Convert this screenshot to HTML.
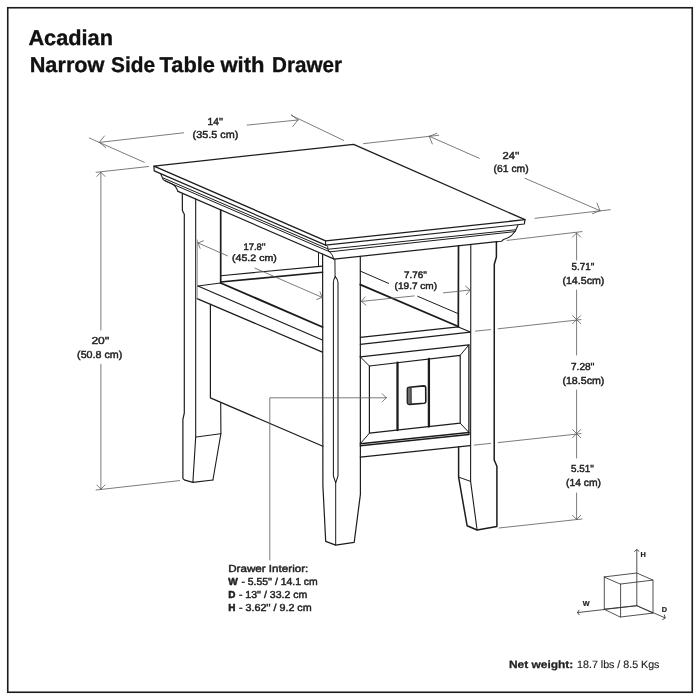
<!DOCTYPE html>
<html><head><meta charset="utf-8"><title>Acadian Narrow Side Table with Drawer</title>
<style>
html,body{margin:0;padding:0;background:#fff;}
body{width:700px;height:700px;overflow:hidden;}
svg{display:block;font-family:"Liberation Sans",sans-serif;will-change:transform;}
svg text{text-rendering:geometricPrecision;}
svg path{stroke-linecap:round;stroke-linejoin:round;}
</style></head><body>
<svg width="700" height="700" viewBox="0 0 700 700">
<rect width="700" height="700" fill="#fff"/>
<rect x="7.75" y="7.75" width="684.5" height="684.5" fill="#fff" stroke="#1c1c1c" stroke-width="1.6"/>
<path d="M154,166.1 L353.6,144.3 L525,219.7 L325.6,240.9 Z" stroke="#1c1c1c" stroke-width="1.3" fill="#fff" />
<path d="M154.0,166.1 L154.2,170.9 L325.6,245.1 L524.3,224.0 L525.0,219.7" stroke="#1c1c1c" stroke-width="1.2" fill="none" />
<path d="M325.6,240.9 L325.6,245.1" stroke="#1c1c1c" stroke-width="1.1" fill="none" />
<path d="M163.0,177.9 L327.7,248.8" stroke="#1c1c1c" stroke-width="1.0" fill="none" />
<path d="M164.7,180.7 L329.9,251.9" stroke="#1c1c1c" stroke-width="1.0" fill="none" />
<path d="M178.0,191.4 L333.7,258.9" stroke="#1c1c1c" stroke-width="1.2" fill="none" />
<path d="M160.9,174.3 L163.2,179.6 L164.7,180.6 L172.5,184.2 Q175.6,185.8 176.6,188.6 L178,191.4" stroke="#1c1c1c" stroke-width="1.1" fill="none" />
<path d="M328.6,249.2 L515.7,229.8" stroke="#1c1c1c" stroke-width="1.0" fill="none" />
<path d="M330.3,251.8 L515.0,231.6" stroke="#1c1c1c" stroke-width="1.0" fill="none" />
<path d="M334.1,259.1 L497.0,241.7" stroke="#1c1c1c" stroke-width="1.2" fill="none" />
<path d="M517.9,225.4 L515.7,230 L515,231.5 Q511,237.5 503.5,239.5 L501.4,241.3 L497,241.7" stroke="#1c1c1c" stroke-width="1.1" fill="none" />
<path d="M326.4,245.4 L327.7,246.6 L328.1,250 L329.9,252 Q332.6,254.5 333.9,259" stroke="#1c1c1c" stroke-width="1.0" fill="none" />
<path d="M182.3,194.2 L182.4,210.5 L184.3,214.3 L184.3,413.0 L182.9,419.4 L182.9,478.6 L184.9,480.2 L192.9,482.3 L212.9,480.0" stroke="#1c1c1c" stroke-width="1.2" fill="none" />
<path d="M195.7,199.1 L195.7,437.1 L192.9,482.3" stroke="#1c1c1c" stroke-width="1.1" fill="none" />
<path d="M220.7,209.9 L220.7,283.0" stroke="#1c1c1c" stroke-width="1.7" fill="none" />
<path d="M220.7,402.9 L220.9,433.7 L212.9,480.0" stroke="#1c1c1c" stroke-width="1.1" fill="none" />
<path d="M195.7,437.1 L220.9,433.7" stroke="#1c1c1c" stroke-width="1.0" fill="none" />
<path d="M197.9,286.0 L322.4,340.0" stroke="#1c1c1c" stroke-width="1.2" fill="none" />
<path d="M197.1,298.6 L322.4,352.1" stroke="#1c1c1c" stroke-width="1.2" fill="none" />
<path d="M197.4,240.0 L197.3,298.6" stroke="#8a8a8a" stroke-width="0.8" fill="none" />
<path d="M220.7,283.0 L322.4,327.0" stroke="#1c1c1c" stroke-width="1.9" fill="none" />
<path d="M197.9,286.0 L220.7,283.0" stroke="#1c1c1c" stroke-width="1.0" fill="none" />
<path d="M220.7,275.7 L322.6,266.1" stroke="#1c1c1c" stroke-width="1.1" fill="none" />
<path d="M220.7,282.0 L322.6,272.3" stroke="#1c1c1c" stroke-width="1.6" fill="none" />
<path d="M318.5,252.9 L318.5,266.4" stroke="#1c1c1c" stroke-width="1.0" fill="none" />
<path d="M210.4,304.3 L210.4,397.9 L322.9,446.3" stroke="#1c1c1c" stroke-width="1.2" fill="none" />
<path d="M322.6,254.1 L322.9,485.7 L325.7,541.4 L335.7,545.1 L354.2,542.3 L360.4,494.3 L360.3,256.3" stroke="#1c1c1c" stroke-width="1.2" fill="none" />
<path d="M334.9,259.3 L335.1,277.0" stroke="#1c1c1c" stroke-width="1.0" fill="none" />
<path d="M335.3,276.6 Q333.5,279.3 333.4,282.5 L333.4,476 L335.7,482.9 L338,476 L338,282.5 Q337.8,279.3 335.3,276.6" stroke="#1c1c1c" stroke-width="1.05" fill="none" />
<path d="M335.7,482.9 L335.7,545.1" stroke="#1c1c1c" stroke-width="1.0" fill="none" />
<path d="M458.5,245.8 L458.3,326.5" stroke="#1c1c1c" stroke-width="1.7" fill="none" />
<path d="M470.8,244.5 L470.6,481.4 L477.1,530.0" stroke="#1c1c1c" stroke-width="1.1" fill="none" />
<path d="M496.4,241.7 L496.4,257.0 L494.3,264.3 L494.2,460.0 L496.9,466.3 L496.9,526.6 L477.1,530.0 L467.1,525.7 L458.6,477.1 L458.6,447.1" stroke="#1c1c1c" stroke-width="1.5" fill="none" />
<path d="M458.6,477.1 L470.6,481.4" stroke="#1c1c1c" stroke-width="1.0" fill="none" />
<path d="M360.3,271.1 L388.6,283.4" stroke="#1c1c1c" stroke-width="1.0" fill="none" />
<path d="M417.7,296.3 L458.3,313.7" stroke="#1c1c1c" stroke-width="1.0" fill="none" />
<path d="M360.3,284.6 L458.3,326.5" stroke="#1c1c1c" stroke-width="1.9" fill="none" />
<path d="M360.3,337.4 L458.3,326.9 L470.3,331.9" stroke="#1c1c1c" stroke-width="1.1" fill="none" />
<path d="M360.3,344.3 L470.3,332.2" stroke="#1c1c1c" stroke-width="1.2" fill="none" />
<path d="M360.3,356.9 L468.9,344.9 L468.9,434.4" stroke="#1c1c1c" stroke-width="1.3" fill="none" />
<path d="M360.3,443.7 L468.9,432.4" stroke="#1c1c1c" stroke-width="1.5" fill="none" />
<path d="M360.3,445.7 L468.9,434.4" stroke="#1c1c1c" stroke-width="1.5" fill="none" />
<path d="M369.4,366 L460.2,355.3 L460.2,423.2 L369.4,433.2 Z" stroke="#1c1c1c" stroke-width="1.2" fill="none" />
<path d="M360.3,356.9 L369.4,366.0" stroke="#1c1c1c" stroke-width="1.0" fill="none" />
<path d="M468.9,344.9 L460.2,355.3" stroke="#1c1c1c" stroke-width="1.0" fill="none" />
<path d="M468.9,432.4 L460.2,423.2" stroke="#1c1c1c" stroke-width="1.0" fill="none" />
<path d="M360.3,443.7 L369.4,433.2" stroke="#1c1c1c" stroke-width="1.0" fill="none" />
<path d="M397.5,362.7 L397.5,430.1" stroke="#1c1c1c" stroke-width="2.3" fill="none" />
<path d="M428.9,359.0 L428.9,426.6" stroke="#1c1c1c" stroke-width="2.3" fill="none" />
<path d="M409.2,387.3 L423.8,385.9 Q425.6,385.9 425.7,387.6 L425.8,401.4 Q425.8,403 424.2,403.2 L409.8,404.4 Q407.4,404.4 407.4,402.2 L407.4,389.2 Q407.4,387.4 409.2,387.3 Z" stroke="#1c1c1c" stroke-width="1.6" fill="#fff" />
<path d="M410.8,388.0 L408.3,388.5 L408.2,403.2 L410.9,403.8 Z" stroke="#555" stroke-width="0.6" fill="#6a6a6a" />
<path d="M411,387.8 L411.1,403.9" stroke="#1c1c1c" stroke-width="0.9" fill="none" />
<path d="M360.3,457.1 L470.3,445.7" stroke="#1c1c1c" stroke-width="1.2" fill="none" />
<path d="M99.3,142.4 L183.6,132.8" stroke="#5a5a5a" stroke-width="0.8" fill="none" />
<path d="M247.1,125.1 L297.9,120.0" stroke="#5a5a5a" stroke-width="0.8" fill="none" />
<path d="M99.3,142.4 L105.7,147.5" stroke="#5a5a5a" stroke-width="0.8" fill="none" />
<path d="M99.3,142.4 L104.4,136.0" stroke="#5a5a5a" stroke-width="0.8" fill="none" />
<path d="M297.9,120.0 L291.5,114.9" stroke="#5a5a5a" stroke-width="0.8" fill="none" />
<path d="M297.9,120.0 L292.8,126.4" stroke="#5a5a5a" stroke-width="0.8" fill="none" />
<path d="M89.3,138.0 L144.3,162.3" stroke="#5a5a5a" stroke-width="0.8" fill="none" />
<path d="M291.4,115.4 L343.6,140.4" stroke="#5a5a5a" stroke-width="0.8" fill="none" />
<path d="M429.3,136.3 L479.3,158.3" stroke="#5a5a5a" stroke-width="0.8" fill="none" />
<path d="M525.0,178.3 L600.0,210.7" stroke="#5a5a5a" stroke-width="0.8" fill="none" />
<path d="M429.3,136.3 L432.3,143.9" stroke="#5a5a5a" stroke-width="0.8" fill="none" />
<path d="M429.3,136.3 L436.9,133.3" stroke="#5a5a5a" stroke-width="0.8" fill="none" />
<path d="M600.0,210.7 L597.0,203.1" stroke="#5a5a5a" stroke-width="0.8" fill="none" />
<path d="M600.0,210.7 L592.4,213.7" stroke="#5a5a5a" stroke-width="0.8" fill="none" />
<path d="M363.6,143.6 L438.7,135.3" stroke="#5a5a5a" stroke-width="0.8" fill="none" />
<path d="M535.0,218.3 L610.3,209.7" stroke="#5a5a5a" stroke-width="0.8" fill="none" />
<path d="M96.1,172.3 L148.6,166.5" stroke="#5a5a5a" stroke-width="0.8" fill="none" />
<path d="M100.9,172.5 L100.9,330.0" stroke="#5a5a5a" stroke-width="0.8" fill="none" />
<path d="M100.9,364.3 L100.9,489.1" stroke="#5a5a5a" stroke-width="0.8" fill="none" />
<path d="M100.9,172.3 L96.8,176.4" stroke="#5a5a5a" stroke-width="0.8" fill="none" />
<path d="M100.9,172.3 L105.0,176.4" stroke="#5a5a5a" stroke-width="0.8" fill="none" />
<path d="M100.9,489.1 L105.0,485.0" stroke="#5a5a5a" stroke-width="0.8" fill="none" />
<path d="M100.9,489.1 L96.8,485.0" stroke="#5a5a5a" stroke-width="0.8" fill="none" />
<path d="M96.1,490.0 L179.6,480.6" stroke="#5a5a5a" stroke-width="0.8" fill="none" />
<path d="M198.0,242.9 L227.4,255.8" stroke="#5a5a5a" stroke-width="0.8" fill="none" />
<path d="M254.9,268.1 L322.1,297.4" stroke="#5a5a5a" stroke-width="0.8" fill="none" />
<path d="M198.0,242.9 L200.1,248.3" stroke="#5a5a5a" stroke-width="0.8" fill="none" />
<path d="M198.0,242.9 L203.4,240.8" stroke="#5a5a5a" stroke-width="0.8" fill="none" />
<path d="M322.1,297.4 L320.0,292.0" stroke="#5a5a5a" stroke-width="0.8" fill="none" />
<path d="M322.1,297.4 L316.7,299.5" stroke="#5a5a5a" stroke-width="0.8" fill="none" />
<path d="M361.4,301.4 L414.3,295.9" stroke="#5a5a5a" stroke-width="0.8" fill="none" />
<path d="M443.4,292.9 L470.2,290.0" stroke="#5a5a5a" stroke-width="0.8" fill="none" />
<path d="M361.4,301.4 L365.9,305.1" stroke="#5a5a5a" stroke-width="0.8" fill="none" />
<path d="M361.4,301.4 L365.1,296.9" stroke="#5a5a5a" stroke-width="0.8" fill="none" />
<path d="M470.2,290.0 L465.7,286.3" stroke="#5a5a5a" stroke-width="0.8" fill="none" />
<path d="M470.2,290.0 L466.5,294.5" stroke="#5a5a5a" stroke-width="0.8" fill="none" />
<path d="M507.0,240.4 L582.0,231.6" stroke="#5a5a5a" stroke-width="0.8" fill="none" />
<path d="M475.5,331.1 L490.6,329.6" stroke="#5a5a5a" stroke-width="0.8" fill="none" />
<path d="M498.2,328.8 L581.0,319.6" stroke="#5a5a5a" stroke-width="0.8" fill="none" />
<path d="M474.3,445.1 L490.6,443.4" stroke="#5a5a5a" stroke-width="0.8" fill="none" />
<path d="M498.2,442.6 L581.0,433.6" stroke="#5a5a5a" stroke-width="0.8" fill="none" />
<path d="M499.0,528.0 L582.0,519.0" stroke="#5a5a5a" stroke-width="0.8" fill="none" />
<path d="M576.6,233.0 L576.6,260.0" stroke="#5a5a5a" stroke-width="0.8" fill="none" />
<path d="M576.6,290.0 L576.6,355.0" stroke="#5a5a5a" stroke-width="0.8" fill="none" />
<path d="M576.6,390.0 L576.6,458.0" stroke="#5a5a5a" stroke-width="0.8" fill="none" />
<path d="M576.6,493.0 L576.6,519.4" stroke="#5a5a5a" stroke-width="0.8" fill="none" />
<path d="M576.6,233.0 L572.5,237.1" stroke="#5a5a5a" stroke-width="0.8" fill="none" />
<path d="M576.6,233.0 L580.7,237.1" stroke="#5a5a5a" stroke-width="0.8" fill="none" />
<path d="M576.6,319.6 L580.6,315.6" stroke="#5a5a5a" stroke-width="0.8" fill="none" />
<path d="M576.6,319.6 L572.6,315.6" stroke="#5a5a5a" stroke-width="0.8" fill="none" />
<path d="M576.6,319.6 L572.6,323.6" stroke="#5a5a5a" stroke-width="0.8" fill="none" />
<path d="M576.6,319.6 L580.6,323.6" stroke="#5a5a5a" stroke-width="0.8" fill="none" />
<path d="M576.6,433.6 L580.6,429.6" stroke="#5a5a5a" stroke-width="0.8" fill="none" />
<path d="M576.6,433.6 L572.6,429.6" stroke="#5a5a5a" stroke-width="0.8" fill="none" />
<path d="M576.6,433.6 L572.6,437.6" stroke="#5a5a5a" stroke-width="0.8" fill="none" />
<path d="M576.6,433.6 L580.6,437.6" stroke="#5a5a5a" stroke-width="0.8" fill="none" />
<path d="M576.6,519.4 L580.7,515.3" stroke="#5a5a5a" stroke-width="0.8" fill="none" />
<path d="M576.6,519.4 L572.5,515.3" stroke="#5a5a5a" stroke-width="0.8" fill="none" />
<path d="M269.8,560.0 L269.8,397.8 L386.3,397.8" stroke="#5a5a5a" stroke-width="0.8" fill="none" />
<path d="M386.3,397.8 L382.2,393.7" stroke="#5a5a5a" stroke-width="0.8" fill="none" />
<path d="M386.3,397.8 L382.2,401.9" stroke="#5a5a5a" stroke-width="0.8" fill="none" />
<path d="M604.3,576.9 L636.8,573 L653,580.1 L620.6,584 Z" stroke="#333" stroke-width="0.85" fill="none" />
<path d="M604.3,609.1 L636.8,605.7 L653,613.1 L620.6,617 Z" stroke="#333" stroke-width="0.85" fill="none" />
<path d="M604.3,576.9 L604.3,609.1" stroke="#333" stroke-width="0.85" fill="none" />
<path d="M653.0,580.1 L653.0,613.1" stroke="#333" stroke-width="0.85" fill="none" />
<path d="M620.6,584.0 L620.6,617.0" stroke="#333" stroke-width="0.85" fill="none" />
<path d="M636.8,605.7 L636.8,549.7" stroke="#333" stroke-width="0.85" fill="none" />
<path d="M636.8,605.7 L577.5,612.6" stroke="#333" stroke-width="0.85" fill="none" />
<path d="M636.8,605.7 L665.0,617.8" stroke="#333" stroke-width="0.85" fill="none" />
<path d="M634.6,551.3 L636.8,549.5 L639.0,551.3" stroke="#333" stroke-width="0.85" fill="none" />
<path d="M579.0,610.2 L577.5,612.6 L579.3,614.8" stroke="#333" stroke-width="0.85" fill="none" />
<path d="M664.4,615.0 L665.2,618.0 L662.6,619.6" stroke="#333" stroke-width="0.85" fill="none" />
<text x="28.4" y="44.5" font-size="21.4" font-weight="bold" fill="#111" stroke="#111" stroke-width="0.35" textLength="84.6" lengthAdjust="spacingAndGlyphs">Acadian</text>
<text x="29.7" y="71.7" font-size="21.4" font-weight="bold" fill="#111" stroke="#111" stroke-width="0.35" textLength="74.8" lengthAdjust="spacingAndGlyphs">Narrow</text>
<text x="111.0" y="71.7" font-size="21.4" font-weight="bold" fill="#111" stroke="#111" stroke-width="0.35" textLength="44.0" lengthAdjust="spacingAndGlyphs">Side</text>
<text x="159.6" y="71.7" font-size="21.4" font-weight="bold" fill="#111" stroke="#111" stroke-width="0.35" textLength="55.4" lengthAdjust="spacingAndGlyphs">Table</text>
<text x="220.5" y="71.7" font-size="21.4" font-weight="bold" fill="#111" stroke="#111" stroke-width="0.35" textLength="44.0" lengthAdjust="spacingAndGlyphs">with</text>
<text x="272.0" y="71.7" font-size="21.4" font-weight="bold" fill="#111" stroke="#111" stroke-width="0.35" textLength="70.0" lengthAdjust="spacingAndGlyphs">Drawer</text>
<text x="207.6" y="124.6" font-size="10.2" font-weight="normal" fill="#222" stroke="#222" stroke-width="0.45" textLength="15.3" lengthAdjust="spacingAndGlyphs">14''</text>
<text x="192.6" y="137.9" font-size="10.2" font-weight="normal" fill="#222" stroke="#222" stroke-width="0.45" textLength="45.7" lengthAdjust="spacingAndGlyphs">(35.5 cm)</text>
<text x="502.6" y="158.6" font-size="10.2" font-weight="normal" fill="#222" stroke="#222" stroke-width="0.45" textLength="16.7" lengthAdjust="spacingAndGlyphs">24''</text>
<text x="493.6" y="171.7" font-size="10.2" font-weight="normal" fill="#222" stroke="#222" stroke-width="0.45" textLength="35.0" lengthAdjust="spacingAndGlyphs">(61 cm)</text>
<text x="91.4" y="344.3" font-size="10.2" font-weight="normal" fill="#222" stroke="#222" stroke-width="0.45" textLength="18.0" lengthAdjust="spacingAndGlyphs">20''</text>
<text x="77.1" y="357.7" font-size="10.2" font-weight="normal" fill="#222" stroke="#222" stroke-width="0.45" textLength="45.2" lengthAdjust="spacingAndGlyphs">(50.8 cm)</text>
<text x="243.4" y="250.4" font-size="9.4" font-weight="normal" fill="#222" stroke="#222" stroke-width="0.45" textLength="22.1" lengthAdjust="spacingAndGlyphs">17.8''</text>
<text x="232" y="261.1" font-size="9.4" font-weight="normal" fill="#222" stroke="#222" stroke-width="0.45" textLength="44.8" lengthAdjust="spacingAndGlyphs">(45.2 cm)</text>
<text x="404" y="278.3" font-size="9.4" font-weight="normal" fill="#222" stroke="#222" stroke-width="0.45" textLength="22.9" lengthAdjust="spacingAndGlyphs">7.76''</text>
<text x="394.6" y="289.1" font-size="9.4" font-weight="normal" fill="#222" stroke="#222" stroke-width="0.45" textLength="42.5" lengthAdjust="spacingAndGlyphs">(19.7 cm)</text>
<text x="571.6" y="270" font-size="10.2" font-weight="normal" fill="#222" stroke="#222" stroke-width="0.45" textLength="22.8" lengthAdjust="spacingAndGlyphs">5.71''</text>
<text x="562.4" y="284" font-size="10.2" font-weight="normal" fill="#222" stroke="#222" stroke-width="0.45" textLength="42.0" lengthAdjust="spacingAndGlyphs">(14.5cm)</text>
<text x="571" y="369.6" font-size="10.2" font-weight="normal" fill="#222" stroke="#222" stroke-width="0.45" textLength="23.4" lengthAdjust="spacingAndGlyphs">7.28''</text>
<text x="562.4" y="383.6" font-size="10.2" font-weight="normal" fill="#222" stroke="#222" stroke-width="0.45" textLength="42.0" lengthAdjust="spacingAndGlyphs">(18.5cm)</text>
<text x="571" y="472.4" font-size="10.2" font-weight="normal" fill="#222" stroke="#222" stroke-width="0.45" textLength="23" lengthAdjust="spacingAndGlyphs">5.51''</text>
<text x="566" y="486.4" font-size="10.2" font-weight="normal" fill="#222" stroke="#222" stroke-width="0.45" textLength="35" lengthAdjust="spacingAndGlyphs">(14 cm)</text>
<text x="228.2" y="572" font-size="10.2" font-weight="normal" fill="#222" stroke="#222" stroke-width="0.45" textLength="80.1" lengthAdjust="spacingAndGlyphs">Drawer Interior:</text>
<text x="228.2" y="585.1" font-size="10.2" font-weight="bold" fill="#222" stroke="#222" stroke-width="0.55" textLength="9.5" lengthAdjust="spacingAndGlyphs">W</text>
<text x="241.4" y="585.1" font-size="10.2" font-weight="normal" fill="#222" stroke="#222" stroke-width="0.45" textLength="76.3" lengthAdjust="spacingAndGlyphs">- 5.55'' / 14.1 cm</text>
<text x="228.2" y="598.3" font-size="10.2" font-weight="bold" fill="#222" stroke="#222" stroke-width="0.55" textLength="7.2" lengthAdjust="spacingAndGlyphs">D</text>
<text x="238.9" y="598.3" font-size="10.2" font-weight="normal" fill="#222" stroke="#222" stroke-width="0.45" textLength="68.5" lengthAdjust="spacingAndGlyphs">- 13'' / 33.2 cm</text>
<text x="228.2" y="611.4" font-size="10.2" font-weight="bold" fill="#222" stroke="#222" stroke-width="0.55" textLength="7.2" lengthAdjust="spacingAndGlyphs">H</text>
<text x="238.9" y="611.4" font-size="10.2" font-weight="normal" fill="#222" stroke="#222" stroke-width="0.45" textLength="72.8" lengthAdjust="spacingAndGlyphs">- 3.62'' / 9.2 cm</text>
<text x="640.6" y="557.1" font-size="7.3" font-weight="bold" fill="#222" stroke="#222" stroke-width="0.2" >H</text>
<text x="582.7" y="606.4" font-size="7.3" font-weight="bold" fill="#222" stroke="#222" stroke-width="0.2" >W</text>
<text x="661.8" y="612" font-size="7.3" font-weight="bold" fill="#222" stroke="#222" stroke-width="0.2" >D</text>
<text x="509" y="667.6" font-size="10.6" font-weight="bold" fill="#222" stroke="#222" stroke-width="0.25" textLength="64.3" lengthAdjust="spacingAndGlyphs">Net weight:</text>
<text x="577.1" y="667.6" font-size="10.6" font-weight="normal" fill="#222" stroke="#222" stroke-width="0.15" textLength="82.3" lengthAdjust="spacingAndGlyphs">18.7 lbs / 8.5 Kgs</text>
</svg>
</body></html>
